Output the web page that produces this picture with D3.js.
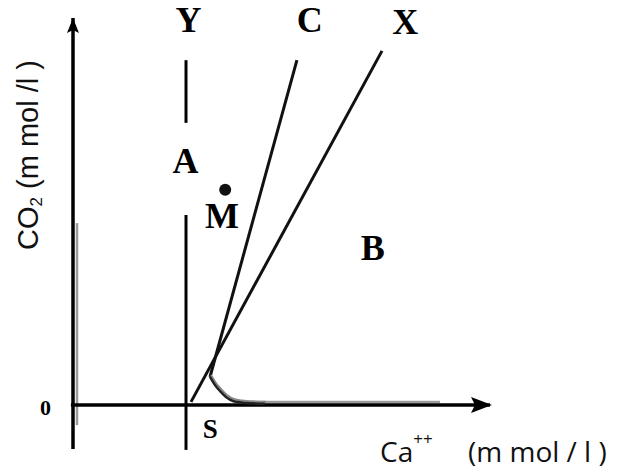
<!DOCTYPE html>
<html>
<head>
<meta charset="utf-8">
<script src="https://cdn.jsdelivr.net/npm/d3@7"></script>
<style>
  body { margin: 0; background: #fff; }
  svg { display: block; }
</style>
</head>
<body>
<div id="chart"></div>
<script>
// all positions in diagram units (Ca++ along x, CO2 along y)
const yAxisLine = [[0, -11.4], [0, 100]];
const xAxisLine = [[-0.5, 0], [100, 0]];
const yShadow = [[0.96, -5.2], [0.96, 47]];
const xShadow = [[42.4, 0.78], [88, 0.78]];
const sLineLower = [[27.1, -11.6], [27.1, 49.1]];
const sLineUpper = [[27.1, 72.9], [27.1, 89.1]];
const lineX = [[28.3, 0.8], [74.1, 91.5]];
const lineC = [[53.7, 89.1], [32.85, 7.24]];
const curveC = [[32.85, 7.24], [34.05, 5.17], [35.25, 3.62], [36.69, 2.07], [38.37, 1.03], [41.25, 0.52], [46, 0.3]];
const pointM = [36.5, 55.6];

const letters = ["Y", "C", "X", "A", "M", "B", "S", "0"];
const letterX = [27.7, 56.8, 79.7, 27.0, 35.7, 71.9, 32.9, -6.6];
const letterY = [96.4, 96.4, 95.9, 59.9, 45.7, 37.5, -8.5, -2.6];
const letterSize = [36, 36, 36, 36, 36, 36, 27, 22];

const xTitle = ["Ca", "++", "(m mol / l )"];
const yTitle = ["CO", "2", " (m mol /l )"];

const width = 620;
const height = 472;

const x = d3.scaleLinear().domain([0, 100]).range([73, 490]);
const y = d3.scaleLinear().domain([0, 100]).range([405, 18]);

const svg = d3
  .select("#chart")
  .append("svg")
  .attr("width", width)
  .attr("height", height);

const line = d3
  .line()
  .x((d) => x(d[0]))
  .y((d) => y(d[1]));

const drawLine = (pts, w, col) =>
  svg
    .append("path")
    .attr("d", line(pts))
    .attr("fill", "none")
    .attr("stroke", col)
    .attr("stroke-width", w);

// grey shadow strokes of the scanned axes
drawLine(yShadow, 2.5, "#9a9a9a");
drawLine(xShadow, 2.5, "#9a9a9a");

drawLine(yAxisLine, 3.5, "#000");
drawLine(xAxisLine, 3.5, "#000");

// arrow heads
const yTop = yAxisLine[1];
svg
  .append("path")
  .attr("d", `M${x(yTop[0])},${y(yTop[1])} l-6,15 l6,-3 l6,3 z`)
  .attr("fill", "#000");

const xEnd = xAxisLine[1];
svg
  .append("path")
  .attr("d", `M${x(xEnd[0]) + 2},${y(xEnd[1])} l-21,-8 l4,8 l-4,8 z`)
  .attr("fill", "#000");

drawLine(sLineLower, 3, "#000");
drawLine(sLineUpper, 3, "#000");
drawLine(lineX, 3, "#111");
drawLine(lineC, 3, "#111");

// bent foot of C
const footPath = line.curve(d3.curveCatmullRom)(curveC);
svg
  .append("path")
  .attr("d", footPath)
  .attr("fill", "none")
  .attr("stroke", "#888")
  .attr("stroke-width", 2)
  .attr("transform", "translate(1,-2)");
svg
  .append("path")
  .attr("d", footPath)
  .attr("fill", "none")
  .attr("stroke", "#222")
  .attr("stroke-width", 2.5);

svg
  .append("circle")
  .attr("cx", x(pointM[0]))
  .attr("cy", y(pointM[1]))
  .attr("r", 6)
  .attr("fill", "#111");

svg
  .append("g")
  .attr("font-family", "'Liberation Serif', 'Times New Roman', serif")
  .attr("font-weight", "bold")
  .attr("text-anchor", "middle")
  .selectAll("text")
  .data(letters)
  .join("text")
  .attr("x", (d, i) => x(letterX[i]))
  .attr("y", (d, i) => y(letterY[i]))
  .attr("font-size", (d, i) => letterSize[i])
  .text((d) => d);

// axis titles
const xt = svg
  .append("text")
  .attr("x", 380)
  .attr("y", 462)
  .attr("font-family", "'Open Sans', sans-serif")
  .attr("font-size", 28)
  .attr("fill", "#111");
xt.append("tspan").text(xTitle[0]);
xt.append("tspan").attr("dy", -17).attr("font-size", 17).text(xTitle[1]);
xt.append("tspan").attr("x", 468).attr("dy", 17).text(xTitle[2]);

const yt = svg
  .append("text")
  .attr("transform", "translate(38,250) rotate(-90)")
  .attr("font-family", "'Liberation Sans', Arial, sans-serif")
  .attr("font-size", 29)
  .attr("fill", "#111");
yt.append("tspan").text(yTitle[0]);
yt.append("tspan").attr("dy", 4).attr("font-size", 17).text(yTitle[1]);
yt.append("tspan").attr("dy", -4).text(yTitle[2]);
</script>
</body>
</html>
